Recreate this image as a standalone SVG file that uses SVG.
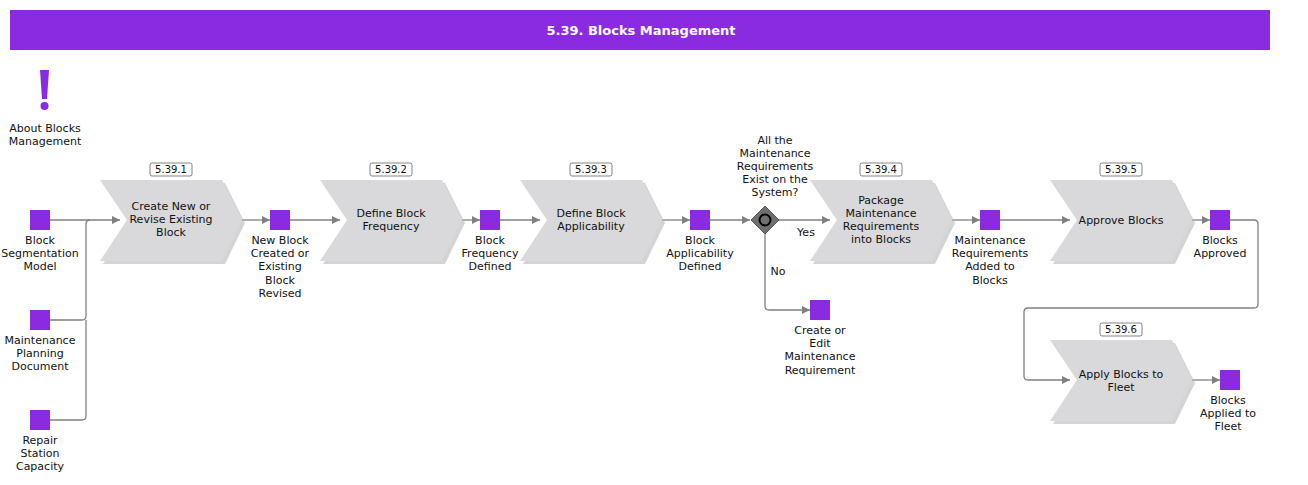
<svg xmlns="http://www.w3.org/2000/svg" width="1308" height="485" viewBox="0 0 1308 485">
<style>
text{font-family:"DejaVu Sans",Verdana,sans-serif;font-size:11px;fill:#111;text-anchor:middle}
.sq{fill:#8a2be2}
.pr{fill:#d9d9db}
.sh{fill:#b8b8b8;opacity:.6}
.c{fill:none;stroke:#808080;stroke-width:1.3}
.lb{fill:#fff;stroke:#666;stroke-width:.8}
.id{font-size:10px}
</style>
<defs>
<marker id="a" viewBox="0 0 10 10" refX="10" refY="5" markerWidth="10" markerHeight="8" orient="auto" markerUnits="userSpaceOnUse"><path d="M0,0L10,5L0,10z" fill="#808080"/></marker>
<path id="chev" d="M0,0H122L142,40L122,81H0L27,40Z"/>
</defs>
<rect x="10" y="10" width="1260" height="40" fill="#8a2be2"/>
<text x="641" y="35" style="fill:#fff;font-weight:bold;font-size:13px">5.39. Blocks Management</text>

<g id="about">
<path d="M40,70H49L47,99H42Z" fill="#8a2be2"/><circle cx="44.5" cy="106" r="4" fill="#8a2be2"/>
<text x="45" y="132">About Blocks</text><text x="45" y="145">Management</text>
</g>

<g id="connectors">
<path class="c" d="M50,220H120" marker-end="url(#a)"/>
<path class="c" d="M50,320H82Q86,320 86,316V224Q86,220 90,220"/>
<path class="c" d="M50,420H82Q86,420 86,416V320"/>
<path class="c" d="M242,220H270" marker-end="url(#a)"/>
<path class="c" d="M290,220H340" marker-end="url(#a)"/>
<path class="c" d="M462,220H480" marker-end="url(#a)"/>
<path class="c" d="M500,220H540" marker-end="url(#a)"/>
<path class="c" d="M662,220H690" marker-end="url(#a)"/>
<path class="c" d="M710,220H750" marker-end="url(#a)"/>
<path class="c" d="M779,220H830" marker-end="url(#a)"/>
<path class="c" d="M765,234V306Q765,310 769,310H810" marker-end="url(#a)"/>
<path class="c" d="M952,220H980" marker-end="url(#a)"/>
<path class="c" d="M1000,220H1070" marker-end="url(#a)"/>
<path class="c" d="M1192,220H1210" marker-end="url(#a)"/>
<path class="c" d="M1230,220H1254Q1258,220 1258,224V304Q1258,308 1254,308H1028Q1024,308 1024,312V376Q1024,380 1028,380H1070" marker-end="url(#a)"/>
<path class="c" d="M1192,380H1220" marker-end="url(#a)"/>
<text x="806" y="236">Yes</text>
<text x="778" y="275">No</text>
</g>

<g id="p1"><use href="#chev" class="sh" x="103" y="183"/><use href="#chev" class="pr" x="100" y="180"/>
<rect class="lb" x="150" y="163" width="42" height="13" rx="2"/><text class="id" x="171" y="173">5.39.1</text>
<text x="171" y="210">Create New or</text><text x="171" y="223">Revise Existing</text><text x="171" y="236">Block</text></g>
<g id="p2"><use href="#chev" class="sh" x="323" y="183"/><use href="#chev" class="pr" x="320" y="180"/>
<rect class="lb" x="370" y="163" width="42" height="13" rx="2"/><text class="id" x="391" y="173">5.39.2</text>
<text x="391" y="217">Define Block</text><text x="391" y="230">Frequency</text></g>
<g id="p3"><use href="#chev" class="sh" x="523" y="183"/><use href="#chev" class="pr" x="520" y="180"/>
<rect class="lb" x="570" y="163" width="42" height="13" rx="2"/><text class="id" x="591" y="173">5.39.3</text>
<text x="591" y="217">Define Block</text><text x="591" y="230">Applicability</text></g>
<g id="p4"><use href="#chev" class="sh" x="813" y="183"/><use href="#chev" class="pr" x="810" y="180"/>
<rect class="lb" x="860" y="163" width="42" height="13" rx="2"/><text class="id" x="881" y="173">5.39.4</text>
<text x="881" y="204">Package</text><text x="881" y="217">Maintenance</text><text x="881" y="230">Requirements</text><text x="881" y="243">into Blocks</text></g>
<g id="p5"><use href="#chev" class="sh" x="1053" y="183"/><use href="#chev" class="pr" x="1050" y="180"/>
<rect class="lb" x="1100" y="163" width="42" height="13" rx="2"/><text class="id" x="1121" y="173">5.39.5</text>
<text x="1121" y="224">Approve Blocks</text></g>
<g id="p6"><use href="#chev" class="sh" x="1053" y="343"/><use href="#chev" class="pr" x="1050" y="340"/>
<rect class="lb" x="1100" y="323" width="42" height="13" rx="2"/><text class="id" x="1121" y="333">5.39.6</text>
<text x="1121" y="378">Apply Blocks to</text><text x="1121" y="391">Fleet</text></g>

<g id="gw"><path d="M765,206L779,220L765,234L751,220Z" fill="#707070" stroke="#555"/><circle cx="765" cy="220" r="5.5" fill="none" stroke="#000" stroke-width="2"/>
<text x="775" y="144">All the</text><text x="775" y="157">Maintenance</text><text x="775" y="170">Requirements</text><text x="775" y="183">Exist on the</text><text x="775" y="196">System?</text></g>

<g id="e1"><rect class="sq" x="30" y="210" width="20" height="20"/><text x="40" y="244">Block</text><text x="40" y="257">Segmentation</text><text x="40" y="270">Model</text></g>
<g id="e2"><rect class="sq" x="30" y="310" width="20" height="20"/><text x="40" y="344">Maintenance</text><text x="40" y="357">Planning</text><text x="40" y="370">Document</text></g>
<g id="e3"><rect class="sq" x="30" y="410" width="20" height="20"/><text x="40" y="444">Repair</text><text x="40" y="457">Station</text><text x="40" y="470">Capacity</text></g>
<g id="e4"><rect class="sq" x="270" y="210" width="20" height="20"/><text x="280" y="244">New Block</text><text x="280" y="257">Created or</text><text x="280" y="270">Existing</text><text x="280" y="284">Block</text><text x="280" y="297">Revised</text></g>
<g id="e5"><rect class="sq" x="480" y="210" width="20" height="20"/><text x="490" y="244">Block</text><text x="490" y="257">Frequency</text><text x="490" y="270">Defined</text></g>
<g id="e6"><rect class="sq" x="690" y="210" width="20" height="20"/><text x="700" y="244">Block</text><text x="700" y="257">Applicability</text><text x="700" y="270">Defined</text></g>
<g id="e7"><rect class="sq" x="810" y="300" width="20" height="20"/><text x="820" y="334">Create or</text><text x="820" y="347">Edit</text><text x="820" y="360">Maintenance</text><text x="820" y="374">Requirement</text></g>
<g id="e8"><rect class="sq" x="980" y="210" width="20" height="20"/><text x="990" y="244">Maintenance</text><text x="990" y="257">Requirements</text><text x="990" y="270">Added to</text><text x="990" y="284">Blocks</text></g>
<g id="e9"><rect class="sq" x="1210" y="210" width="20" height="20"/><text x="1220" y="244">Blocks</text><text x="1220" y="257">Approved</text></g>
<g id="e10"><rect class="sq" x="1220" y="370" width="20" height="20"/><text x="1228" y="404">Blocks</text><text x="1228" y="417">Applied to</text><text x="1228" y="430">Fleet</text></g>
</svg>
